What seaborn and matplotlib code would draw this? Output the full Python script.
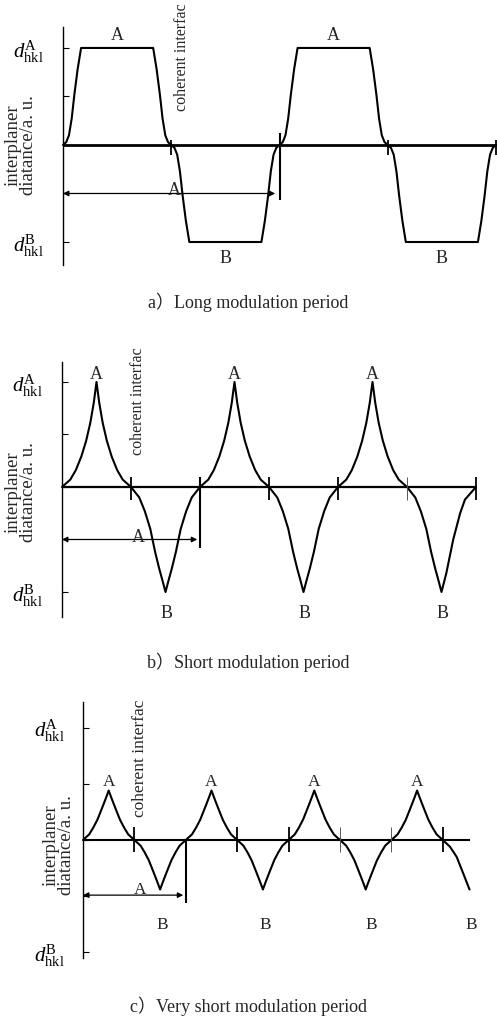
import matplotlib
matplotlib.use("Agg")
import matplotlib.pyplot as plt
import seaborn as sns
import pandas as pd

# ---------------- data ----------------
# panel a: long modulation period (x in units of half-period, y normalised d-spacing)
a_x = [0, .03, .055, .08, .105, .135, .167,
       .833, .865, .895, .92, .945, .97, 1.0, 1.03, 1.055, 1.08, 1.105, 1.135, 1.167,
       1.833, 1.865, 1.895, 1.92, 1.945, 1.97, 2.0, 2.03, 2.055, 2.08, 2.105, 2.135, 2.167,
       2.833, 2.865, 2.895, 2.92, 2.945, 2.97, 3.0, 3.03, 3.055, 3.08, 3.105, 3.135, 3.167,
       3.833, 3.865, 3.895, 3.92, 3.945, 3.97, 4.0]
a_y = [0, .03, .10, .27, .52, .78, 1,
       1, .78, .52, .27, .10, .03, 0, -.03, -.10, -.27, -.52, -.78, -1,
       -1, -.78, -.52, -.27, -.10, -.03, 0, .03, .10, .27, .52, .78, 1,
       1, .78, .52, .27, .10, .03, 0, -.03, -.10, -.27, -.52, -.78, -1,
       -1, -.78, -.52, -.27, -.10, -.03, 0]

# panel b: short modulation period
b_x = [0, .12, .20, .28, .35, .41, .46, .50, .54, .59, .65, .72, .80, .88,
       1.0, 1.12, 1.20, 1.28, 1.35, 1.41, 1.46, 1.50, 1.54, 1.59, 1.65, 1.72, 1.80, 1.88,
       2.0, 2.12, 2.20, 2.28, 2.35, 2.41, 2.46, 2.50, 2.54, 2.59, 2.65, 2.72, 2.80, 2.88,
       3.0, 3.12, 3.20, 3.28, 3.35, 3.41, 3.46, 3.50, 3.54, 3.59, 3.65, 3.72, 3.80, 3.88,
       4.0, 4.12, 4.20, 4.28, 4.35, 4.41, 4.46, 4.50, 4.54, 4.59, 4.65, 4.72, 4.80, 4.88,
       5.0, 5.12, 5.20, 5.28, 5.35, 5.41, 5.46, 5.50, 5.57, 5.67, 5.77, 5.84, 6.0]
b_y = [0, .07, .16, .29, .44, .61, .80, 1, .80, .61, .44, .29, .16, .07,
       0, -.10, -.23, -.40, -.62, -.78, -.90, -1, -.90, -.78, -.62, -.40, -.23, -.10,
       0, .07, .16, .29, .44, .61, .80, 1, .80, .61, .44, .29, .16, .07,
       0, -.10, -.23, -.40, -.62, -.78, -.90, -1, -.90, -.78, -.62, -.40, -.23, -.10,
       0, .07, .16, .29, .44, .61, .80, 1, .80, .61, .44, .29, .16, .07,
       0, -.10, -.23, -.40, -.62, -.78, -.90, -1, -.82, -.50, -.25, -.12, 0]

# panel c: very short modulation period
c_x = [0, .12, .20, .28, .35, .41, .46, .50, .54, .59, .65, .72, .80, .88,
       1.0, 1.12, 1.20, 1.28, 1.35, 1.41, 1.46, 1.50, 1.54, 1.59, 1.65, 1.72, 1.80, 1.88,
       2.0, 2.12, 2.20, 2.28, 2.35, 2.41, 2.46, 2.50, 2.54, 2.59, 2.65, 2.72, 2.80, 2.88,
       3.0, 3.12, 3.20, 3.28, 3.35, 3.41, 3.46, 3.50, 3.54, 3.59, 3.65, 3.72, 3.80, 3.88,
       4.0, 4.12, 4.20, 4.28, 4.35, 4.41, 4.46, 4.50, 4.54, 4.59, 4.65, 4.72, 4.80, 4.88,
       5.0, 5.12, 5.20, 5.28, 5.35, 5.41, 5.46, 5.50, 5.54, 5.59, 5.65, 5.72, 5.80, 5.88,
       6.0, 6.12, 6.20, 6.28, 6.35, 6.41, 6.46, 6.50, 6.54, 6.59, 6.65, 6.72, 6.80, 6.88,
       7.0, 7.14, 7.27, 7.40, 7.52]
c_y = [0, .05, .11, .18, .26, .33, .39, .44, .39, .33, .26, .18, .11, .05,
       0, -.05, -.11, -.18, -.26, -.33, -.39, -.44, -.39, -.33, -.26, -.18, -.11, -.05,
       0, .05, .11, .18, .26, .33, .39, .44, .39, .33, .26, .18, .11, .05,
       0, -.05, -.11, -.18, -.26, -.33, -.39, -.44, -.39, -.33, -.26, -.18, -.11, -.05,
       0, .05, .11, .18, .26, .33, .39, .44, .39, .33, .26, .18, .11, .05,
       0, -.05, -.11, -.18, -.26, -.33, -.39, -.44, -.39, -.33, -.26, -.18, -.11, -.05,
       0, .05, .11, .18, .26, .33, .39, .44, .39, .33, .26, .18, .11, .05,
       0, -.06, -.15, -.30, -.44]

# interface marks (x of crossing): bold ones and faint ones; period arrows
a_marks = [1, 3, 4]
a_marks_thin = []
b_marks = [1, 3, 4, 6]
b_marks_thin = [5]
c_marks = [1, 3, 4, 7]
c_marks_thin = [5, 6]
period_end = 2
arrow_end = [1.96, 1.96, 1.95]

# label positions
a_A_x = [0.5, 2.5]
a_B_x = [1.5, 3.5]
b_A_x = [0.5, 2.5, 4.5]
b_B_x = [1.5, 3.5, 5.5]
c_A_x = [0.5, 2.5, 4.5, 6.5]
c_B_x = [1.55, 3.55, 5.6, 7.55]

ytick_vals = [1, 0.5, 0, -0.5, -1]
ytick_labels = [r'$d^{\mathrm{A}}_{\mathrm{hkl}}$', '', '', '', r'$d^{\mathrm{B}}_{\mathrm{hkl}}$']

captions = ['a）Long modulation period', 'b）Short modulation period',
            'c）Very short modulation period']
ylabel_text = 'interplaner\ndiatance/a. u.'
interface_text = 'coherent interfac'

# ---------------- style ----------------
sns.set_style('white')
plt.rcParams['font.family'] = ['Liberation Serif', 'Noto Sans CJK SC']
plt.rcParams['mathtext.fontset'] = 'custom'
plt.rcParams['mathtext.rm'] = 'Liberation Serif'
plt.rcParams['mathtext.it'] = 'Liberation Serif:italic'

W, H = 497, 1022
fig = plt.figure(figsize=(W / 100, H / 100), dpi=100)


def px_axes(left, top, right, bottom):
    return fig.add_axes([left / W, 1 - bottom / H, (right - left) / W, (bottom - top) / H])


def style_axes(ax, xlim, ylim, pad):
    ax.set_xlim(*xlim)
    ax.set_ylim(*ylim)
    for s in ['top', 'right', 'bottom']:
        ax.spines[s].set_visible(False)
    ax.spines['left'].set_linewidth(1.0)
    ax.spines['left'].set_color('black')
    ax.set_xticks([])
    ax.set_yticks(ytick_vals)
    ax.set_yticklabels(ytick_labels)
    ax.tick_params(axis='y', direction='in', length=4, width=0.8, pad=pad,
                   labelsize=15, colors='black', left=True)
    ax.set_facecolor('none')
    ax.set_xlabel('')
    ax.set_ylabel('')


def draw_panel(ax, xs, ys, base_end, marks, marks_thin, mark_lo, mark_hi, long_lo, long_hi,
               arr_end, arr_y, base_lw):
    df = pd.DataFrame({'x': xs, 'y': ys})
    ax.hlines(0, 0, base_end, colors='black', lw=base_lw, clip_on=False)
    sns.lineplot(data=df, x='x', y='y', ax=ax, color='black', lw=1.5,
                 sort=False, estimator=None, clip_on=False)
    ax.vlines(marks, mark_lo, mark_hi, colors='black', lw=1.3, clip_on=False)
    if marks_thin:
        ax.vlines(marks_thin, mark_lo, mark_hi, colors='#555555', lw=0.7, clip_on=False)
    ax.vlines([period_end], long_lo, long_hi, colors='black', lw=1.5, clip_on=False)
    ax.annotate('', xy=(0, arr_y), xytext=(arr_end, arr_y),
                arrowprops=dict(arrowstyle='<|-|>', color='black', lw=0.9,
                                mutation_scale=8, shrinkA=0, shrinkB=0),
                annotation_clip=False)
    ax.set_xlabel('')
    ax.set_ylabel('')


FS = 13

# ---- panel a ----
ax1 = px_axes(63, 27, 496, 265)
draw_panel(ax1, a_x, a_y, 4, a_marks, a_marks_thin, -0.10, 0.05, -0.57, 0.12,
           arrow_end[0], -0.5, 2.0)
style_axes(ax1, (0, 4), (-1.237, 1.216), 14)
for x in a_A_x:
    ax1.text(x, 1.08, 'A', ha='center', va='baseline', fontsize=FS)
for x in a_B_x:
    ax1.text(x, -1.22, 'B', ha='center', va='baseline', fontsize=FS)
ax1.text(1.03, -0.52, 'A', ha='center', va='baseline', fontsize=FS)
ax1.text(1.10, 0.91, interface_text, rotation=90, ha='center', va='center', fontsize=11.5)

# ---- panel b ----
ax2 = px_axes(62, 362, 476, 617)
draw_panel(ax2, b_x, b_y, 6, b_marks, b_marks_thin, -0.12, 0.095, -0.58, 0.095,
           arrow_end[1], -0.5, 1.6)
style_axes(ax2, (0, 6), (-1.238, 1.190), 14)
for x in b_A_x:
    ax2.text(x, 1.03, 'A', ha='center', va='baseline', fontsize=FS)
for x in b_B_x:
    ax2.text(x + 0.02, -1.25, 'B', ha='center', va='baseline', fontsize=FS)
ax2.text(1.10, -0.52, 'A', ha='center', va='baseline', fontsize=FS)
ax2.text(1.10, 0.82, interface_text, rotation=90, ha='center', va='center', fontsize=11.5)

# ---- panel c ----
ax3 = px_axes(83, 702, 468.5, 958)
draw_panel(ax3, c_x, c_y, 7.53, c_marks, c_marks_thin, -0.11, 0.115, -0.56, 0.0,
           arrow_end[2], -0.49, 1.5)
style_axes(ax3, (0, 7.5), (-1.049, 1.227), 13)
for x in c_A_x:
    ax3.text(x, 0.48, 'A', ha='center', va='baseline', fontsize=FS - 0.5)
for x in c_B_x:
    ax3.text(x, -0.79, 'B', ha='center', va='baseline', fontsize=FS - 0.5)
ax3.text(1.11, -0.48, 'A', ha='center', va='baseline', fontsize=FS - 0.5)
ax3.text(1.11, 0.73, interface_text, rotation=90, ha='center', va='center', fontsize=12.5)

# y labels
for (cx, cy) in [(21, 145), (21, 492), (59, 845)]:
    fig.text(cx / W, 1 - cy / H, ylabel_text, rotation=90, ha='center', va='center',
             fontsize=13.5, linespacing=0.85, multialignment='center')

# captions
for (cy, txt) in zip([302, 662, 1006], captions):
    fig.text(248 / W, 1 - cy / H, txt, ha='center', va='center', fontsize=13)

fig.savefig('out.png', dpi=100, facecolor='white')
